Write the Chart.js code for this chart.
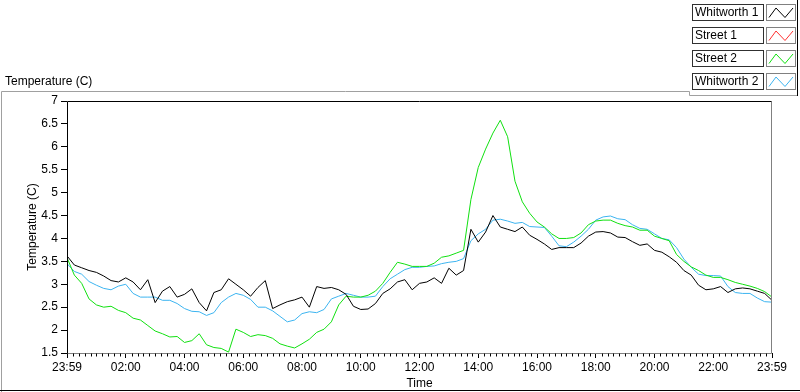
<!DOCTYPE html>
<html>
<head>
<meta charset="utf-8">
<script src="https://cdn.jsdelivr.net/npm/chart.js@4.4.1/dist/chart.umd.min.js"></script>
<style>
  html, body { margin: 0; padding: 0; background: #fff; }
  canvas { display: block; }
</style>
</head>
<body>
<canvas id="tempChart" width="800" height="392"></canvas>
<script>
// hours since 23:59 the day before, one sample every 15 min
const sampleHours = [0,0.25,0.5,0.75,1,1.25,1.5,1.75,2,2.25,2.5,2.75,3,3.25,3.5,3.75,4,4.25,4.5,4.75,
  5,5.25,5.5,5.75,6,6.25,6.5,6.75,7,7.25,7.5,7.75,8,8.25,8.5,8.75,9,9.25,9.5,9.75,
  10,10.25,10.5,10.75,11,11.25,11.5,11.75,12,12.25,12.5,12.75,13,13.25,13.5,13.75,14,14.25,14.5,14.75,
  15,15.25,15.5,15.75,16,16.25,16.5,16.75,17,17.25,17.5,17.75,18,18.25,18.5,18.75,19,19.25,19.5,19.75,
  20,20.25,20.5,20.75,21,21.25,21.5,21.75,22,22.25,22.5,22.75,23,23.25,23.5,23.75,24];

const whitworth1 = [3.62,3.42,3.36,3.30,3.26,3.18,3.08,3.05,3.14,3.05,
  2.88,3.10,2.60,2.85,2.95,2.72,2.78,2.90,2.60,2.42,
  2.82,2.88,3.12,3.00,2.88,2.74,2.93,3.08,2.47,2.55,
  2.62,2.66,2.72,2.50,2.95,2.91,2.93,2.88,2.78,2.52,
  2.45,2.46,2.58,2.80,2.90,3.05,3.10,2.88,3.02,3.05,
  3.14,3.02,3.35,3.20,3.30,4.20,3.92,4.14,4.50,4.25,
  4.20,4.15,4.25,4.07,3.98,3.88,3.76,3.80,3.80,3.80,
  3.90,4.05,4.14,4.15,4.12,4.03,4.02,3.93,3.85,3.88,
  3.74,3.70,3.60,3.48,3.30,3.20,2.98,2.88,2.90,2.95,
  2.82,2.90,2.92,2.90,2.85,2.80,2.65];

const street1 = []; // no readings logged

const street2 = [3.58,3.20,3.02,2.68,2.55,2.50,2.52,2.43,2.38,2.26,
  2.22,2.10,1.98,1.92,1.85,1.86,1.73,1.77,1.92,1.68,
  1.62,1.60,1.52,2.02,1.95,1.86,1.90,1.88,1.82,1.70,
  1.65,1.61,1.70,1.80,1.95,2.02,2.18,2.55,2.74,2.72,
  2.72,2.76,2.85,3.02,3.26,3.48,3.44,3.39,3.39,3.39,
  3.46,3.59,3.62,3.68,3.74,4.85,5.55,5.95,6.30,6.58,
  6.22,5.25,4.80,4.55,4.36,4.25,4.10,4.00,4.00,4.02,
  4.12,4.30,4.38,4.40,4.40,4.33,4.28,4.25,4.18,4.18,
  4.05,4.00,3.95,3.65,3.50,3.38,3.30,3.20,3.15,3.15,
  3.10,3.04,3.00,2.96,2.91,2.84,2.72];

const whitworth2 = [3.45,3.28,3.22,3.06,2.98,2.91,2.88,2.96,3.00,2.80,
  2.72,2.72,2.72,2.65,2.65,2.58,2.47,2.41,2.40,2.32,
  2.38,2.60,2.72,2.80,2.76,2.67,2.50,2.50,2.42,2.30,
  2.18,2.22,2.36,2.40,2.38,2.45,2.68,2.74,2.80,2.76,
  2.72,2.72,2.74,2.95,3.12,3.22,3.32,3.37,3.37,3.39,
  3.40,3.45,3.48,3.50,3.56,3.95,4.10,4.20,4.40,4.42,
  4.38,4.33,4.35,4.26,4.25,4.24,4.05,3.84,3.82,3.92,
  4.05,4.20,4.40,4.47,4.49,4.43,4.41,4.30,4.22,4.20,
  4.10,4.00,3.97,3.80,3.55,3.37,3.22,3.19,3.19,3.18,
  2.95,2.82,2.80,2.80,2.70,2.62,2.61];

const timeLabels = ['23:59','02:00','04:00','06:00','08:00','10:00','12:00','14:00','16:00','18:00','20:00','22:00','23:59'];

const FONT = 'Liberation Sans, Arial, sans-serif';

function toPoints(vals) {
  return vals.map((v, i) => ({ x: sampleHours[i], y: v }));
}

function series(label, vals, color) {
  return {
    label: label,
    data: toPoints(vals),
    borderColor: color,
    backgroundColor: color,
    borderWidth: 1,
    pointRadius: 0,
    tension: 0,
    fill: false
  };
}

// LabVIEW-ish panel: frame, caption, minor ticks and plot legend
const labviewFrame = {
  id: 'labviewFrame',
  afterDraw(chart) {
    const c = chart.ctx, a = chart.chartArea;
    c.save();
    c.lineWidth = 1;

    c.strokeStyle = '#a0a0a0';
    c.beginPath();
    c.moveTo(1.5, 392); c.lineTo(1.5, 91.5); c.lineTo(689.5, 91.5);
    c.lineTo(689.5, 95.5); c.lineTo(797, 95.5);
    c.stroke();
    c.strokeStyle = '#000';
    c.beginPath();
    c.moveTo(0, 390.5); c.lineTo(800, 390.5);
    c.moveTo(797.5, 0); c.lineTo(797.5, 96);
    c.stroke();

    c.fillStyle = '#000';
    c.font = '12px ' + FONT;
    c.textBaseline = 'middle';
    c.fillText('Temperature (C)', 5, 82);

    // plot frame
    const L = Math.round(a.left) + 0.5, T = Math.round(a.top) + 0.5;
    const R = Math.round(a.right) - 0.5, B = Math.round(a.bottom) + 0.5;
    c.strokeStyle = '#808080';
    c.beginPath(); c.moveTo(R, T); c.lineTo(R, B); c.lineTo(L, B); c.stroke();
    c.strokeStyle = '#000';
    c.beginPath(); c.moveTo(L, B); c.lineTo(L, T); c.lineTo(R, T); c.stroke();

    // minor ticks every 12 min
    const xs = chart.scales.x;
    c.beginPath();
    for (let m = 0; m <= 1440; m += 12) {
      if (m % 120 === 0) continue;
      const px = Math.round(xs.getPixelForValue(m / 60)) + 0.5;
      c.moveTo(px, B); c.lineTo(px, B + 3);
    }
    c.stroke();

    // legend
    chart.data.datasets.forEach((ds, i) => {
      const y = 4.5 + 23 * i;
      c.strokeStyle = '#303030';
      c.strokeRect(692.5, y, 71, 16);
      c.fillStyle = '#000';
      c.fillText(ds.label, 695, y + 8.5);
      c.strokeStyle = '#808080';
      c.strokeRect(766.5, y, 29, 16);
      c.strokeStyle = ds.borderColor;
      c.beginPath();
      c.moveTo(769, y + 13); c.lineTo(776, y + 3.5);
      c.lineTo(785, y + 13); c.lineTo(793, y + 3.5);
      c.stroke();
    });
    c.restore();
  }
};

Chart.defaults.font.family = FONT;
Chart.defaults.font.size = 12;
Chart.defaults.color = '#000';

const ctx = document.getElementById('tempChart').getContext('2d');
const chart = new Chart(ctx, {
  type: 'line',
  data: {
    datasets: [
      series('Whitworth 1', whitworth1, '#000000'),
      series('Street 1', street1, '#ff3030'),
      series('Street 2', street2, '#10e010'),
      series('Whitworth 2', whitworth2, '#3cb4f0')
    ]
  },
  options: {
    responsive: false,
    animation: false,
    layout: { padding: { top: 101, left: 0, right: 28, bottom: 0 } },
    plugins: {
      legend: { display: false },
      tooltip: { enabled: false }
    },
    scales: {
      x: {
        type: 'linear',
        min: 0,
        max: 24,
        afterFit: s => { s.height = 39; },
        border: { display: false },
        grid: { drawOnChartArea: false, drawTicks: true, tickLength: 5, color: '#000' },
        ticks: {
          stepSize: 2,
          autoSkip: false,
          maxRotation: 0,
          padding: 2,
          callback: v => timeLabels[v / 2]
        },
        title: { display: true, text: 'Time', padding: { top: 0, bottom: 1 } }
      },
      y: {
        min: 1.5,
        max: 7,
        afterFit: s => { s.width = 67; },
        border: { display: false },
        grid: { drawOnChartArea: false, drawTicks: true, tickLength: 6, color: '#000' },
        ticks: {
          stepSize: 0.5,
          padding: 3,
          callback: v => String(v)
        },
        title: { display: true, text: 'Temperature (C)', padding: { top: 25, bottom: 0 } }
      }
    }
  },
  plugins: [labviewFrame]
});
</script>
</body>
</html>
